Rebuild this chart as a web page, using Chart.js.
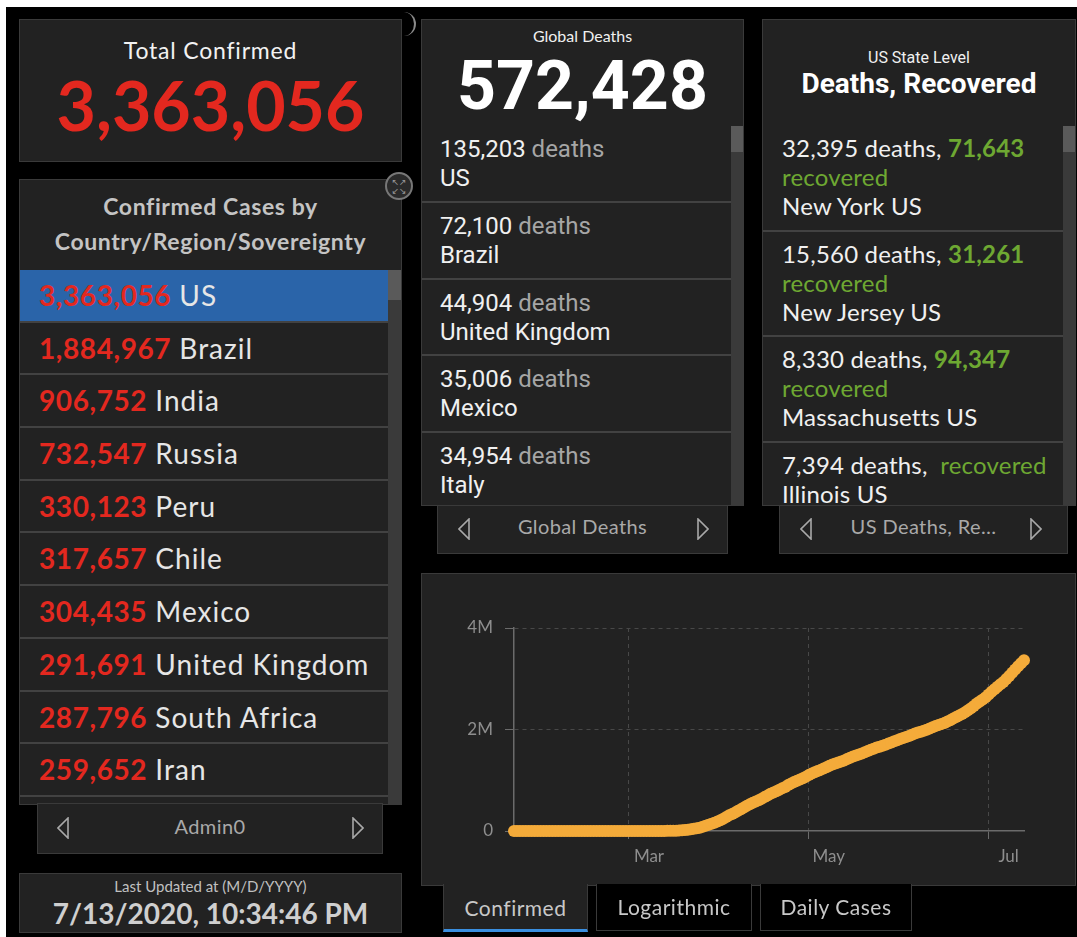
<!DOCTYPE html>
<html>
<head>
<meta charset="utf-8">
<script src="https://cdn.jsdelivr.net/npm/chart.js@4.4.1/dist/chart.umd.min.js"></script>
<style>
  html, body { margin: 0; padding: 0; background: #fff; }
  body { width: 1077px; height: 937px; position: relative; overflow: hidden; font-family: 'Lato', sans-serif; }
  .abs { position: absolute; box-sizing: border-box; }
  #stage { left: 6px; top: 7px; width: 1071px; height: 930px; background: #000; }
  .panel { background: #222; border: 1px solid #3a3a3a; }
  .center { text-align: center; }
  .red { color: #e3281f; }
  .green { color: #6ea832; }
  .gray { color: #a6a6a6; }
  .list { overflow: hidden; }
  .lrow { height: 52.7px; box-sizing: border-box; border-bottom: 2px solid #424242; padding-left: 19px;
          line-height: 51px; font-size: 28px; color: #e6e6e6; white-space: nowrap; letter-spacing: 1px; }
  .lrow b { font-weight: 700; letter-spacing: 0.6px; }
  .lrow.sel { background: #2a64a9; }
  .mrow { height: 76.8px; box-sizing: border-box; border-bottom: 2px solid #424242; padding: 9px 0 0 18px;
          font-family: 'Roboto', sans-serif; font-size: 24px; line-height: 29px; color: #f0f0f0; }
  .rrow { height: 105.5px; box-sizing: border-box; border-bottom: 2px solid #424242; padding: 7px 0 0 19px;
          font-size: 24px; line-height: 29px; color: #f0f0f0; white-space: nowrap; letter-spacing: 0.2px; }
  .rrow b { font-weight: 700; }
  .scroll { background: #3a3a3a; }
  .thumb { background: #5a5a5a; }
  .nav { background: #222; border: 1px solid #3a3a3a; color: #a9a9a9; font-size: 20px; }
  .tab { font-size: 21px; color: #c8c8c8; text-align: center; line-height: 46px; border: 1px solid #3a3a3a;
         background: #000; letter-spacing: 0.5px; }
</style>
</head>
<body>
<div id="stage" class="abs"></div>

<!-- Total Confirmed -->
<div class="abs panel" style="left:19px; top:19px; width:383px; height:143px;">
  <div class="abs center" style="left:0; right:0; top:16px; font-size:23px; letter-spacing:0.8px; color:#f2f2f2;">Total Confirmed</div>
  <div class="abs center red" style="left:0; right:0; top:45px; font-size:68px; font-weight:700; line-height:80px;">3,363,056</div>
</div>
<div class="abs" style="left:396px; top:12px; width:20px; height:24px; border-right:2px solid #8a8a8a; border-radius:0 12px 12px 0;"></div>

<!-- Confirmed by country -->
<div class="abs panel" style="left:19px; top:179px; width:383px; height:626px;">
  <div class="abs center" style="left:0; right:0; top:9px; font-size:23px; line-height:35px; font-weight:700; letter-spacing:0.6px; color:#c4c4c4;">Confirmed Cases by<br>Country/Region/Sovereignty</div>
</div>
<div class="abs" style="left:385px; top:172px; width:28px; height:28px; border-radius:50%; border:2px solid #777; background:#2a2a2a; color:#999; font-size:9px; line-height:9px; text-align:center; padding-top:4px; font-family:'DejaVu Sans';">&#8598;&#8599;<br>&#8601;&#8600;</div>
<div id="countryList" class="abs list" style="left:20px; top:270px; width:368px; height:534px;"></div>
<div class="abs scroll" style="left:388px; top:270px; width:13px; height:534px;"></div>
<div class="abs thumb" style="left:388px; top:270px; width:13px; height:30px;"></div>
<div class="abs nav" style="left:37px; top:803px; width:346px; height:51px;">
  <svg class="abs" style="left:19px; top:13px;" width="12" height="22"><polygon points="11,1 1,11 11,21" fill="none" stroke="#a9a9a9" stroke-width="1.6"/></svg>
  <div class="abs center" style="left:0; right:0; top:10px; letter-spacing:0.4px;">Admin0</div>
  <svg class="abs" style="left:314px; top:13px;" width="12" height="22"><polygon points="1,1 11,11 1,21" fill="none" stroke="#a9a9a9" stroke-width="1.6"/></svg>
</div>

<!-- Last updated -->
<div class="abs panel" style="left:19px; top:873px; width:383px; height:60px;">
  <div class="abs center" style="left:0; right:0; top:3px; font-size:15px; color:#c0c0c0;">Last Updated at (M/D/YYYY)</div>
  <div class="abs center" style="left:0; right:0; top:22px; font-size:28px; font-weight:700; color:#cfcfcf;">7/13/2020, 10:34:46 PM</div>
</div>

<!-- Global deaths -->
<div class="abs panel" style="left:421px; top:19px; width:323px; height:487px;">
  <div class="abs center" style="left:0; right:0; top:6px; font-size:16px; color:#f0f0f0;">Global Deaths</div>
  <div class="abs center" style="left:0; right:0; top:28px; font-family:'Roboto'; font-size:68px; font-weight:700; line-height:76px; color:#fff;">572,428</div>
</div>
<div id="deathList" class="abs list" style="left:422px; top:126px; width:309px; height:380px;"></div>
<div class="abs scroll" style="left:731px; top:126px; width:12px; height:380px;"></div>
<div class="abs thumb" style="left:731px; top:126px; width:12px; height:26px;"></div>
<div class="abs nav" style="left:437px; top:505px; width:291px; height:49px;">
  <svg class="abs" style="left:20px; top:12px;" width="12" height="22"><polygon points="11,1 1,11 11,21" fill="none" stroke="#a9a9a9" stroke-width="1.6"/></svg>
  <div class="abs center" style="left:0; right:0; top:8px; letter-spacing:0.4px;">Global Deaths</div>
  <svg class="abs" style="left:259px; top:12px;" width="12" height="22"><polygon points="1,1 11,11 1,21" fill="none" stroke="#a9a9a9" stroke-width="1.6"/></svg>
</div>

<!-- US state level -->
<div class="abs panel" style="left:762px; top:19px; width:314px; height:487px;">
  <div class="abs center" style="left:0; right:0; top:28px; font-family:'Roboto'; font-size:16px; color:#f0f0f0;">US State Level</div>
  <div class="abs center" style="left:0; right:0; top:47px; font-family:'Roboto'; font-size:28px; font-weight:700; color:#fff;">Deaths, Recovered</div>
</div>
<div id="stateList" class="abs list" style="left:763px; top:126px; width:300px; height:380px;"></div>
<div class="abs scroll" style="left:1063px; top:126px; width:12px; height:380px;"></div>
<div class="abs thumb" style="left:1063px; top:126px; width:12px; height:26px;"></div>
<div class="abs nav" style="left:779px; top:505px; width:289px; height:49px;">
  <svg class="abs" style="left:20px; top:12px;" width="12" height="22"><polygon points="11,1 1,11 11,21" fill="none" stroke="#a9a9a9" stroke-width="1.6"/></svg>
  <div class="abs center" style="left:0; right:0; top:8px; letter-spacing:0.4px;">US Deaths, Re…</div>
  <svg class="abs" style="left:250px; top:12px;" width="12" height="22"><polygon points="1,1 11,11 1,21" fill="none" stroke="#a9a9a9" stroke-width="1.6"/></svg>
</div>

<!-- Chart panel -->
<div class="abs panel" style="left:421px; top:573px; width:655px; height:313px;"></div>
<canvas id="graficoConfirmados" class="abs" width="654" height="312" style="left:421px; top:573px;"></canvas>
<div class="abs tab" style="left:443px; top:884px; width:145px; height:48px; background:#222; border-top:none; border-bottom:3px solid #3a8fe0; line-height:48px;">Confirmed</div>
<div class="abs tab" style="left:596px; top:884px; width:156px; height:47px; border-top:none;">Logarithmic</div>
<div class="abs tab" style="left:760px; top:884px; width:152px; height:47px; border-top:none;">Daily Cases</div>

<script>
// lista por país
const paisesValores = ['3,363,056', '1,884,967', '906,752', '732,547', '330,123', '317,657', '304,435', '291,691', '287,796', '259,652', '253,908'];
const paisesNomes = ['US', 'Brazil', 'India', 'Russia', 'Peru', 'Chile', 'Mexico', 'United Kingdom', 'South Africa', 'Iran', 'Spain'];

// mortes globais
const mortesValores = ['135,203', '72,100', '44,904', '35,006', '34,954'];
const mortesPaises = ['US', 'Brazil', 'United Kingdom', 'Mexico', 'Italy'];

// estados dos EUA
const estadosMortes = ['32,395', '15,560', '8,330', '7,394'];
const estadosRecuperados = ['71,643', '31,261', '94,347', ''];
const estadosNomes = ['New York US', 'New Jersey US', 'Massachusetts US', 'Illinois US'];

// série do gráfico: casos confirmados nos EUA, um valor por dia a partir de 22/01/2020
const dataInicial = '2020-01-22';
const confirmados = [
    1, 1, 2, 2, 5, 5, 5, 6, 6, 8,
    8, 8, 11, 11, 12, 12, 12, 12, 12, 12, 13, 13, 14, 14, 14, 14, 14, 14, 14, 14,
    16, 16, 16, 16, 16, 16, 17, 60, 68,
    74, 98, 118, 149, 217, 262, 402, 518, 583, 959, 1281, 1663, 2179, 2727, 3499, 4632,
    6421, 7783, 13747, 19273, 25600, 33276, 43847, 53740, 65778, 83836, 101657, 121465,
    140909, 161831, 188172,
    213242, 243622, 275367, 308650, 336802, 366317, 397121, 428654, 462780, 496535,
    526396, 555313, 580619, 607670, 636350, 667801, 699706, 732197, 759086, 784326,
    811865, 840351, 869170, 905358, 938154, 965785, 988197, 1012582, 1039909, 1069424,
    1103461, 1132539, 1158040, 1180375, 1204351, 1229331, 1257023, 1283929, 1309550, 1329260,
    1347881, 1369376, 1390406, 1417774, 1442824, 1467820, 1486757, 1508308, 1528568, 1551853,
    1577147, 1600937, 1622612, 1643246, 1662302, 1680913, 1699933, 1721750, 1746019, 1770384,
    1790191,
    1811360, 1831821, 1851520, 1872660, 1897380, 1920061, 1938823, 1956421, 1973797, 1995854,
    2019029, 2044572, 2069136, 2087550, 2107038, 2130090, 2156245, 2184229, 2215619, 2247140,
    2273830, 2306008, 2341893, 2380308, 2420007, 2465276, 2510002, 2549431, 2590000, 2636414,
    2687588, 2742049, 2795361, 2841241, 2891124, 2936077, 2996098, 3054699, 3117946, 3184573,
    3245925, 3304942, 3363056
];
const datasMarcadas = ['2020-03-01', '2020-05-01', '2020-07-01'];
const nomesMeses = ['Mar', 'May', 'Jul'];
const valoresEixoY = [0, 2000000, 4000000];
const rotulosEixoY = ['0', '2M', '4M'];

// monta as listas em HTML
document.getElementById('countryList').innerHTML = paisesValores.map((v, i) =>
    '<div class="lrow' + (i === 0 ? ' sel' : '') + '"><b class="red">' + v + '</b> ' + paisesNomes[i] + '</div>'
).join('');

document.getElementById('deathList').innerHTML = mortesValores.map((v, i) =>
    '<div class="mrow">' + v + ' <span class="gray">deaths</span><br>' + mortesPaises[i] + '</div>'
).join('');

document.getElementById('stateList').innerHTML = estadosMortes.map((v, i) => {
    if (estadosRecuperados[i]) {
        return '<div class="rrow">' + v + ' deaths, <b class="green">' + estadosRecuperados[i] +
            '</b><br><span class="green">recovered</span><br>' + estadosNomes[i] + '</div>';
    }
    return '<div class="rrow">' + v + ' deaths,&nbsp; <span class="green">recovered</span><br>' + estadosNomes[i] + '</div>';
}).join('');

// rótulos de data (um por dia)
const rotulosDatas = [];
const inicio = new Date(dataInicial + 'T00:00:00Z');
for (let i = 0; i < confirmados.length; i++) {
    const d = new Date(inicio.getTime() + i * 86400000);
    rotulosDatas.push(d.toISOString().slice(0, 10));
}

const corLinha = '#f4ab3a';
const corGrade = '#484848';
const corEixo = '#6b6b6b';
const estiloTicks = {
    color: '#8e8e8e',
    font: { family: "'Lato', sans-serif", size: 17 }
};

const ctxConfirmados = document.getElementById('graficoConfirmados');
new Chart(ctxConfirmados, {
    type: 'line',
    data: {
        labels: rotulosDatas,
        datasets: [{
            data: confirmados,
            borderColor: corLinha,
            backgroundColor: corLinha,
            borderWidth: 10,
            pointRadius: 6,
            pointBorderWidth: 0,
            pointBackgroundColor: corLinha,
            tension: 0,
            clip: false
        }]
    },
    options: {
        responsive: false,
        animation: false,
        layout: {
            padding: { top: 55, bottom: 16, left: 43, right: 51 }
        },
        plugins: {
            legend: { display: false },
            tooltip: { enabled: false }
        },
        scales: {
            x: {
                type: 'category',
                offset: false,
                afterBuildTicks: (escala) => {
                    escala.ticks = escala.ticks.filter(t => datasMarcadas.includes(rotulosDatas[t.value]));
                },
                afterFit: (escala) => { escala.height = 38; },
                grid: {
                    color: corGrade,
                    tickColor: corEixo,
                    tickLength: 8,
                    lineWidth: 1
                },
                border: { color: corEixo, width: 1.5, dash: [4, 4] },
                ticks: {
                    ...estiloTicks,
                    autoSkip: false,
                    maxRotation: 0,
                    minRotation: 0,
                    padding: 7,
                    labelOffset: 20,
                    callback: function (valor) {
                        return nomesMeses[datasMarcadas.indexOf(rotulosDatas[valor])];
                    }
                }
            },
            y: {
                min: 0,
                max: 4000000,
                afterBuildTicks: (escala) => {
                    escala.ticks = valoresEixoY.map(v => ({ value: v }));
                },
                afterFit: (escala) => { escala.width = 50; },
                grid: {
                    color: (ctx) => (ctx.tick && ctx.tick.value === 0) ? 'rgba(0,0,0,0)' : corGrade,
                    tickColor: corEixo,
                    tickLength: 9,
                    lineWidth: 1
                },
                border: { color: corEixo, width: 1.5, dash: [4, 4] },
                ticks: {
                    ...estiloTicks,
                    padding: 12,
                    callback: (valor) => rotulosEixoY[valoresEixoY.indexOf(valor)]
                }
            }
        }
    }
});
</script>
</body>
</html>
